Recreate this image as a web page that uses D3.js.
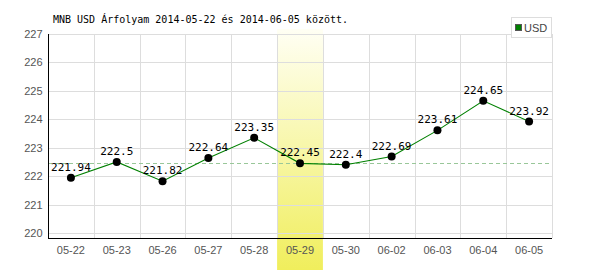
<!DOCTYPE html>
<html>
<head>
<meta charset="utf-8">
<script src="https://cdn.jsdelivr.net/npm/d3@7"></script>
<style>
  body { margin: 0; background: #fff; }
  text { font-family: "DejaVu Sans Mono", monospace; }
</style>
</head>
<body>
<div id="chart"></div>
<script>
// chart data
const dates = ['05-22', '05-23', '05-26', '05-27', '05-28', '05-29', '05-30', '06-02', '06-03', '06-04', '06-05'];
const rates = [221.94, 222.5, 221.82, 222.64, 223.35, 222.45, 222.4, 222.69, 223.61, 224.65, 223.92];
const yTicks = [220, 221, 222, 223, 224, 225, 226, 227];
const selected = '05-29';
const title = 'MNB USD Árfolyam 2014-05-22 és 2014-06-05 között.';
const seriesName = 'USD';

const W = 600, H = 270;
const plotL = 48, plotR = 552, plotT = 34, plotB = 238;

const svg = d3.select('#chart').append('svg')
  .attr('width', W)
  .attr('height', H);

const x = d3.scaleBand()
  .domain(dates)
  .range([plotL, plotR]);

const y = d3.scaleLinear()
  .domain([220, 227])
  .range([233, plotT]);

// yellow highlight band
const grad = svg.append('defs').append('linearGradient')
  .attr('id', 'hl')
  .attr('x1', 0).attr('y1', 0).attr('x2', 0).attr('y2', 1);
grad.append('stop').attr('offset', '0%').attr('stop-color', '#fffff4');
grad.append('stop').attr('offset', '100%').attr('stop-color', '#f0ee5c');

svg.append('rect')
  .attr('x', x(selected))
  .attr('y', 29)
  .attr('width', x.bandwidth())
  .attr('height', H - 29)
  .attr('fill', 'url(#hl)');

// grid
svg.append('g')
  .selectAll('line')
  .data(yTicks)
  .join('line')
    .attr('x1', plotL).attr('x2', plotR)
    .attr('y1', d => Math.round(y(d)) + 0.5)
    .attr('y2', d => Math.round(y(d)) + 0.5)
    .attr('stroke', '#dddddd');

const vx = dates.slice(1).map(d => x(d)).concat([plotR]);
svg.append('g')
  .selectAll('line')
  .data(vx)
  .join('line')
    .attr('x1', d => Math.round(d) + 0.5)
    .attr('x2', d => Math.round(d) + 0.5)
    .attr('y1', plotT).attr('y2', plotB)
    .attr('stroke', '#dddddd');

// reference line at the selected day's rate
const selRate = rates[dates.indexOf(selected)];
svg.append('line')
  .attr('x1', plotL).attr('x2', plotR)
  .attr('y1', Math.round(y(selRate)) + 0.5)
  .attr('y2', Math.round(y(selRate)) + 0.5)
  .attr('stroke', '#99c799')
  .attr('stroke-dasharray', '4,3');

// axes
const yAxis = svg.append('g')
  .attr('transform', `translate(${plotL + 0.5},0)`)
  .call(d3.axisLeft(y).tickValues(yTicks).tickFormat(d3.format('d')).tickSize(0).tickPadding(6));
yAxis.select('.domain').remove();
yAxis.selectAll('text')
  .attr('fill', '#555')
  .style('font-size', '11px')
  .style('font-family', '"Liberation Sans", Arial, sans-serif');

const xAxis = svg.append('g')
  .attr('transform', `translate(0,${plotB + 0.5})`)
  .call(d3.axisBottom(x).tickSize(0).tickPadding(8));
xAxis.select('.domain').remove();
xAxis.selectAll('text')
  .attr('fill', '#555')
  .style('font-size', '11px')
  .style('font-family', '"Liberation Sans", Arial, sans-serif');

svg.append('line')
  .attr('x1', plotL + 0.5).attr('x2', plotL + 0.5)
  .attr('y1', plotT).attr('y2', plotB + 1)
  .attr('stroke', '#000');
svg.append('line')
  .attr('x1', plotL).attr('x2', plotR)
  .attr('y1', plotB + 0.5).attr('y2', plotB + 0.5)
  .attr('stroke', '#000');

// series line
const cx = d => x(d) + x.bandwidth() / 2;
svg.append('path')
  .datum(dates)
  .attr('fill', 'none')
  .attr('stroke', '#008000')
  .attr('stroke-width', 1.1)
  .attr('d', d3.line()
    .x(d => cx(d))
    .y((d, i) => y(rates[i])));

svg.append('g')
  .selectAll('circle')
  .data(dates)
  .join('circle')
    .attr('cx', d => cx(d))
    .attr('cy', (d, i) => y(rates[i]))
    .attr('r', 4)
    .attr('fill', '#000');

svg.append('g')
  .selectAll('text')
  .data(dates)
  .join('text')
    .attr('x', d => cx(d))
    .attr('y', (d, i) => y(rates[i]) - 7)
    .attr('text-anchor', 'middle')
    .style('font-size', '11px')
    .attr('fill', '#000')
    .text((d, i) => rates[i]);

// title
svg.append('text')
  .attr('x', 53)
  .attr('y', 23)
  .style('font-size', '10px')
  .attr('fill', '#000')
  .text(title);

// legend
svg.append('rect')
  .attr('x', 511.5).attr('y', 17.5)
  .attr('width', 40).attr('height', 20)
  .attr('fill', '#fff')
  .attr('stroke', '#dddddd');
svg.append('rect')
  .attr('x', 515.5).attr('y', 24.5)
  .attr('width', 6).attr('height', 6)
  .attr('fill', '#008000')
  .attr('stroke', '#555');
svg.append('text')
  .attr('x', 524)
  .attr('y', 32)
  .style('font-size', '11px')
  .style('font-family', '"Liberation Sans", Arial, sans-serif')
  .attr('fill', '#444')
  .text(seriesName);
</script>
</body>
</html>
